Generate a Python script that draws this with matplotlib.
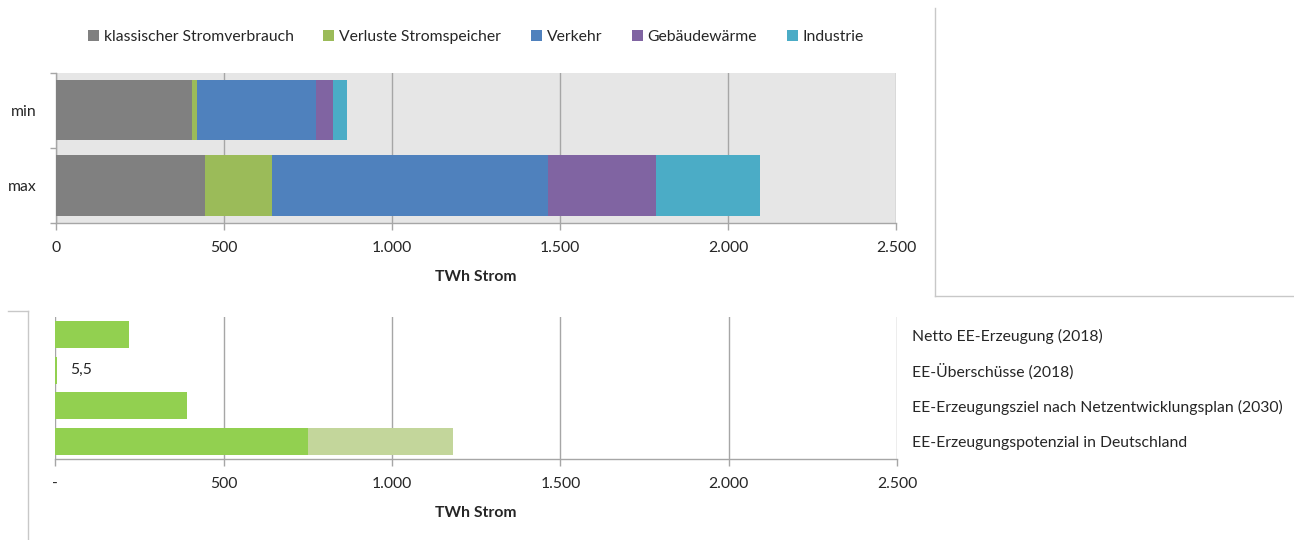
import matplotlib
matplotlib.use("Agg")
import matplotlib.pyplot as plt
from matplotlib.lines import Line2D
from matplotlib.ticker import FuncFormatter
import numpy as np

plt.rcParams["font.family"] = ["Lato", "DejaVu Sans"]

# Strombedarf (TWh) je Sektor, Szenarien min / max
scenarios = ["min", "max"]
sectors = ["klassischer Stromverbrauch", "Verluste Stromspeicher", "Verkehr",
           "Gebäudewärme", "Industrie"]
demand_min = [405, 15, 355, 50, 42]
demand_max = [445, 200, 820, 320, 310]
sector_colors = ["#808080", "#9BBB59", "#4F81BD", "#8064A2", "#4BACC6"]

# Erneuerbare Erzeugung (TWh)
supply_labels = ["Netto EE-Erzeugung (2018)", "EE-Überschüsse (2018)",
                 "EE-Erzeugungsziel nach Netzentwicklungsplan (2030)",
                 "EE-Erzeugungspotenzial in Deutschland"]
supply_base = [220, 5.5, 390, 750]
supply_extra = [0, 0, 0, 430]
surplus_label = "5,5"

XTICKS = [0, 500, 1000, 1500, 2000, 2500]
GRID = "#A6A6A6"
TXT = "#262626"
FS = 11.3


def de_thousands(v, _pos=None):
    return f"{int(v):,}".replace(",", ".")


fig = plt.figure(figsize=(12.94, 5.40), dpi=100)

# ---- Stromverbrauch, gestapelt ----
ax1 = fig.add_axes([0.0430, 0.587, 0.6495, 0.278])
ax1.set_facecolor("#E6E6E6")
data = np.array([demand_min, demand_max])
ypos = np.arange(len(scenarios))
left = np.zeros(len(scenarios))
for j, name in enumerate(sectors):
    ax1.barh(ypos, data[:, j], left=left, height=0.8, color=sector_colors[j],
             label=name, zorder=3)
    left += data[:, j]
ax1.set_ylim(1.5, -0.5)
ax1.set_xlim(0, 2500)
ax1.set_xticks(XTICKS)
ax1.xaxis.set_major_formatter(FuncFormatter(
    lambda v, p: "0" if v == 0 else de_thousands(v)))
ax1.set_yticks([-0.5, 0.5, 1.5])
ax1.set_yticklabels([])
ax1.set_yticks(ypos, minor=True)
ax1.set_yticklabels(scenarios, minor=True)
ax1.tick_params(axis="y", which="minor", length=0, pad=14,
                labelsize=FS, labelcolor=TXT)
ax1.tick_params(axis="y", which="major", length=4, color=GRID, width=1.0)
ax1.tick_params(axis="x", length=5, color=GRID, width=1.0, pad=8,
                labelsize=FS, labelcolor=TXT)
ax1.grid(axis="x", color=GRID, lw=1.0, zorder=1)
for s in ["top", "right"]:
    ax1.spines[s].set_visible(False)
for s in ["left", "bottom"]:
    ax1.spines[s].set_color(GRID)
    ax1.spines[s].set_linewidth(1.0)
ax1.set_xlabel("TWh Strom", fontsize=FS, fontweight="bold", color=TXT,
               labelpad=11)
ax1.legend(loc="lower center", bbox_to_anchor=(0.5, 1.10), ncol=5,
           frameon=False, fontsize=FS, handlelength=0.7, handleheight=0.7,
           handletextpad=0.3, columnspacing=1.9, labelcolor=TXT)

# ---- Erneuerbare Erzeugung ----
ax2 = fig.add_axes([0.0427, 0.150, 0.6505, 0.263])
ypos2 = np.arange(len(supply_labels))
ax2.barh(ypos2, supply_base, height=0.75, color="#92D050", zorder=3)
ax2.barh(ypos2, supply_extra, left=supply_base, height=0.75, color="#C3D69B",
         zorder=3)
ax2.text(supply_base[1] + 40, ypos2[1], surplus_label, va="center", ha="left",
         fontsize=FS, color=TXT)
ax2.set_ylim(len(supply_labels) - 0.5, -0.5)
ax2.set_xlim(0, 2500)
ax2.set_xticks(XTICKS)
ax2.xaxis.set_major_formatter(FuncFormatter(
    lambda v, p: "-" if v == 0 else de_thousands(v)))
ax2.yaxis.tick_right()
ax2.set_yticks(ypos2)
ax2.set_yticklabels(supply_labels)
ax2.tick_params(axis="y", length=0, pad=11, labelsize=FS, labelcolor=TXT)
ax2.tick_params(axis="x", length=5, color=GRID, width=1.0, pad=8,
                labelsize=FS, labelcolor=TXT)
ax2.grid(axis="x", color=GRID, lw=1.0, zorder=1)
for s in ["top", "left", "right"]:
    ax2.spines[s].set_visible(False)
ax2.spines["bottom"].set_color(GRID)
ax2.spines["bottom"].set_linewidth(1.0)
ax2.set_xlabel("TWh Strom", fontsize=FS, fontweight="bold", color=TXT,
               labelpad=11)


# Rahmenlinien zwischen den Diagrammbereichen
def px_line(x0, y0, x1, y1):
    W, H = 1294, 540
    fig.add_artist(Line2D([x0 / W, x1 / W], [1 - y0 / H, 1 - y1 / H],
                          color="#C8C8C8", lw=1.0, transform=fig.transFigure))


px_line(935, 8, 935, 296)
px_line(935, 296, 1293, 296)
px_line(8, 311, 28, 311)
px_line(28, 311, 28, 540)

fig.savefig("out.png", dpi=100, facecolor="white")
